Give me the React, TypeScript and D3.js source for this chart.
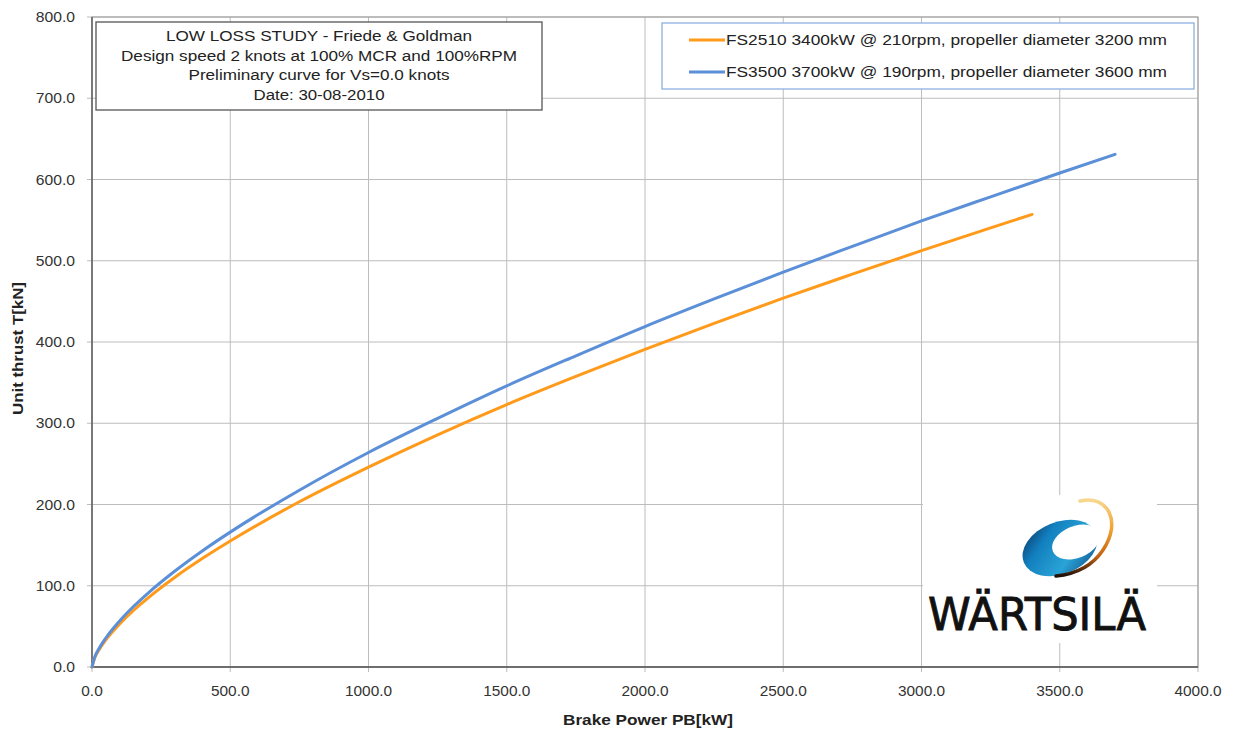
import React from 'react';
import * as d3 from 'd3';

const xTicks = [0, 500, 1000, 1500, 2000, 2500, 3000, 3500, 4000];
const yTicks = [0, 100, 200, 300, 400, 500, 600, 700, 800];

const fs2510Power = [0, 10, 25, 50, 100, 150, 200, 300, 400, 500, 750, 1000, 1250, 1500, 1750, 2000, 2250, 2500, 2750, 3000, 3250, 3400];
const fs2510Thrust = [0, 11.4, 21, 33.4, 53, 69.6, 84.2, 110.4, 133.7, 155, 203.4, 246, 285.8, 323, 357.6, 391, 423, 454, 483.5, 512.4, 540.5, 557];

const fs3500Power = [0, 10, 25, 50, 100, 150, 200, 300, 400, 500, 750, 1000, 1250, 1500, 1750, 2000, 2250, 2500, 2750, 3000, 3250, 3500, 3700];
const fs3500Thrust = [0, 12.2, 22.5, 35.7, 56.7, 74.4, 90.1, 118.1, 143.1, 166, 217.6, 264, 306, 346, 383, 419, 453, 486, 517.7, 549, 578.7, 608, 631];

const seriesNames = [
  'FS2510 3400kW @ 210rpm, propeller diameter 3200 mm',
  'FS3500 3700kW @ 190rpm, propeller diameter 3600 mm',
];
const seriesColors = ['#FF9A1A', '#5B8FD8'];

const titleLines = [
  'LOW LOSS STUDY - Friede & Goldman',
  'Design speed 2 knots at 100% MCR and 100%RPM',
  'Preliminary curve for Vs=0.0 knots',
  'Date: 30-08-2010',
];
const titleWidths = [306, 396, 261, 131];

const W = 1236, H = 730;
const left = 92, right = 1198, top = 17, bottom = 667;

export default function App() {
  const x = d3.scaleLinear().domain([0, 4000]).range([left, right]);
  const y = d3.scaleLinear().domain([0, 800]).range([bottom, top]);
  const fmt = d3.format('.1f');
  const line = d3.line<[number, number]>()
    .x(d => x(d[0]))
    .y(d => y(d[1]))
    .curve(d3.curveMonotoneX);
  const s1 = fs2510Power.map((p, i) => [p, fs2510Thrust[i]] as [number, number]);
  const s2 = fs3500Power.map((p, i) => [p, fs3500Thrust[i]] as [number, number]);
  const font = '"Liberation Sans", Arial, sans-serif';

  return (
    <svg width={W} height={H} style={{ position: 'absolute', left: 0, top: 0, background: '#fff' }} fontFamily={font}>
      <defs>
        <linearGradient id="blueG" x1="0" y1="0" x2="1" y2="1">
          <stop offset="0" stopColor="#0b2f5e" />
          <stop offset="0.3" stopColor="#1280bf" />
          <stop offset="0.65" stopColor="#2aa3d6" />
          <stop offset="1" stopColor="#0c4a86" />
        </linearGradient>
        <linearGradient id="orG" x1="0" y1="0" x2="0" y2="1">
          <stop offset="0" stopColor="#f7d890" />
          <stop offset="0.4" stopColor="#f0a030" />
          <stop offset="0.75" stopColor="#c06010" />
          <stop offset="1" stopColor="#201008" />
        </linearGradient>
      </defs>
      {/* grid */}
      {xTicks.map(t => (
        <line key={'gx' + t} x1={x(t)} x2={x(t)} y1={top} y2={bottom + 5} stroke="#bdbdbd" strokeWidth={1} />
      ))}
      {yTicks.map(t => (
        <line key={'gy' + t} x1={left - 5} x2={right} y1={y(t)} y2={y(t)} stroke="#bdbdbd" strokeWidth={1} />
      ))}
      <rect x={left} y={top} width={right - left} height={bottom - top} fill="none" stroke="#9a9a9a" strokeWidth={1} />
      <line x1={left} x2={left} y1={top} y2={bottom} stroke="#555" strokeWidth={1.3} />
      <line x1={left} x2={right} y1={bottom} y2={bottom} stroke="#555" strokeWidth={1.3} />
      {/* tick labels */}
      {yTicks.map(t => (
        <text key={'ly' + t} transform={`translate(75,${y(t) + 5}) scale(1.12,1)`} textAnchor="end" fontSize={14} fill="#333">{fmt(t)}</text>
      ))}
      {xTicks.map(t => (
        <text key={'lx' + t} transform={`translate(${x(t)},696) scale(1.1,1)`} textAnchor="middle" fontSize={14} fill="#333">{fmt(t)}</text>
      ))}
      <text x={563} y={725} textLength={170} lengthAdjust="spacingAndGlyphs" fontSize={14} fontWeight="bold" fill="#222">Brake Power PB[kW]</text>
      <text transform={`translate(23,415) rotate(-90)`} textLength={133} lengthAdjust="spacingAndGlyphs" fontSize={14} fontWeight="bold" fill="#222">Unit thrust T[kN]</text>

      {/* logo */}
      <rect x={923} y={495} width={234} height={148} fill="#fff" />
      <g>
        <ellipse cx={1060} cy={548} rx={39} ry={26} transform="rotate(-22 1060 548)" fill="url(#blueG)" />
        <ellipse cx={1076} cy={542} rx={25} ry={16} transform="rotate(-22 1076 542)" fill="#fff" />
        <path d="M1080,501 C1108,494 1122,522 1103,550 C1093,565 1076,574 1056,576" fill="none" stroke="url(#orG)" strokeWidth={3.5} strokeLinecap="round" />
        <text x={928} y={630} fontSize={44} textLength={218} lengthAdjust="spacingAndGlyphs" fill="#111" stroke="#111" strokeWidth={0.9} fontFamily='"DejaVu Sans", sans-serif'>WÄRTSILÄ</text>
      </g>

      {/* series */}
      <path d={line(s1) || ''} fill="none" stroke={seriesColors[0]} strokeWidth={3} strokeLinecap="round" />
      <path d={line(s2) || ''} fill="none" stroke={seriesColors[1]} strokeWidth={3} strokeLinecap="round" />

      {/* title box */}
      <rect x={96} y={22} width={446} height={88} fill="#fff" stroke="#555" strokeWidth={1.3} />
      {titleLines.map((t, i) => (
        <text key={'t' + i} x={319 - titleWidths[i] / 2} y={41 + i * 19.5} textLength={titleWidths[i]} lengthAdjust="spacingAndGlyphs" fontSize={14} fill="#222">{t}</text>
      ))}

      {/* legend */}
      <rect x={662} y={23} width={532} height={66} fill="#fff" stroke="#8fb0e0" strokeWidth={1.3} />
      {seriesNames.map((n, i) => (
        <g key={'lg' + i}>
          <line x1={689} x2={725} y1={40 + i * 32} y2={40 + i * 32} stroke={seriesColors[i]} strokeWidth={3} />
          <text x={726} y={45 + i * 32} textLength={441} lengthAdjust="spacingAndGlyphs" fontSize={14} fill="#222">{n}</text>
        </g>
      ))}
    </svg>
  );
}
